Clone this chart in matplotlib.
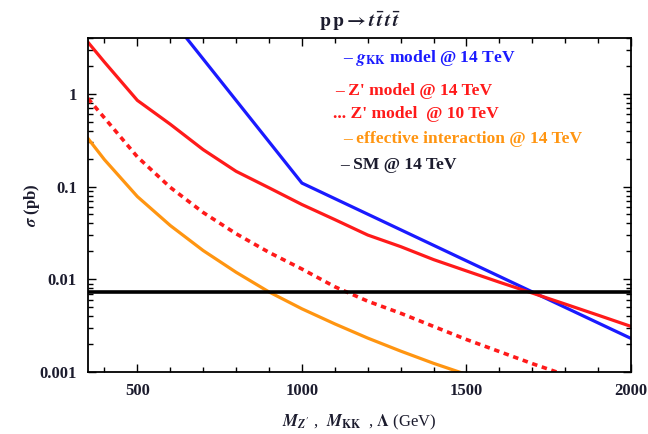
import matplotlib
matplotlib.use("Agg")
import matplotlib.pyplot as plt
from matplotlib.ticker import FixedLocator, FixedFormatter, LogLocator, MultipleLocator, NullFormatter

plt.rcParams['font.family'] = ['Liberation Serif', 'DejaVu Serif']
plt.rcParams['font.weight'] = 'bold'
plt.rcParams['mathtext.fontset'] = 'stix'

# cross sections in pb vs mass scale in GeV
mass = [350, 400, 500, 600, 700, 800, 900, 1000, 1100, 1200, 1300, 1400,
        1500, 1600, 1700, 1800, 1900, 2000]

zp14 = [3.6, 2.2, 0.85, 0.47, 0.25, 0.146, 0.097, 0.064, 0.044, 0.030,
        0.0225, 0.0163, 0.0123, 0.0093, 0.0071, 0.0054, 0.0041, 0.0031]

zp10 = [0.89, 0.55, 0.209, 0.098, 0.0525, 0.031, 0.0195, 0.0129, 0.0083,
        0.0058, 0.0043, 0.0031, 0.00224, 0.00166, 0.00123, 0.00093, 0.0007, 0.00053]

eff14 = [0.33, 0.195, 0.078, 0.038, 0.0204, 0.0119, 0.0073, 0.0048, 0.0033,
         0.00232, 0.00168, 0.00124, 0.00094, 0.00072, 0.00056, 0.00044, 0.00035, 0.00028]

gkk_mass = [500, 1000, 1500, 2000]
gkk14 = [18.5, 0.109, 0.0158, 0.0023]

sm14 = 0.0073

blue = '#1a1aff'
red = '#ff1a1a'
orange = '#ff9511'
ink = '#1c1c2e'

fig = plt.figure(figsize=(6.48, 4.34), dpi=100)
ax = fig.add_axes([0.1358, 0.1429, 0.8380, 0.7695])

ax.plot(gkk_mass, gkk14, color=blue, lw=2.3)
ax.plot(mass, zp14, color=red, lw=2.3)
ax.plot(mass, zp10, color=red, lw=2.6, linestyle=(0, (1.5, 1.3)))
ax.plot(mass, eff14, color=orange, lw=2.3)
ax.axhline(sm14, color='black', lw=2.6)

ax.set_yscale('log')
ax.set_xlim(350, 2000)
ax.set_ylim(0.001, 4)

ax.xaxis.set_major_locator(FixedLocator([500, 1000, 1500, 2000]))
ax.xaxis.set_minor_locator(MultipleLocator(100))
ax.yaxis.set_major_locator(FixedLocator([0.001, 0.01, 0.1, 1]))
ax.yaxis.set_major_formatter(FixedFormatter(['0.001', '0.01', '0.1', '1']))
ax.yaxis.set_minor_locator(LogLocator(base=10, subs=range(2, 10)))
ax.yaxis.set_minor_formatter(NullFormatter())

ax.tick_params(which='both', direction='in', top=True, right=True,
               labelsize=12, labelcolor=ink, width=1.0)
ax.tick_params(which='major', length=6, pad=8)
ax.tick_params(which='minor', length=3.5)
for s in ax.spines.values():
    s.set_linewidth(1.3)

ax.set_xlabel(r'$M_{Z^{\prime}}$ ,  $M_{\mathrm{KK}}$  , $\Lambda$ (GeV)',
              fontsize=12, color=ink, labelpad=10)
ax.set_ylabel(r'$\sigma$ (pb)', fontsize=12, color=ink, fontweight='bold')
ax.yaxis.set_label_coords(-0.085, 0.5)
ax.set_title(r'$\mathbf{p\,p} \rightarrow t\,\bar{t}\,t\,\bar{t}$',
             fontsize=14, color=ink, pad=8)

# key, written as coloured text lines inside the frame
key = [
    (0.470, 0.940, u'\u2013 $g_{\\mathrm{KK}}$ model @ 14 TeV', blue),
    (0.455, 0.841, u"\u2013 Z' model @ 14 TeV", red),
    (0.451, 0.772, u"... Z' model  @ 10 TeV", red),
    (0.470, 0.698, u'\u2013 effective interaction @ 14 TeV', orange),
    (0.464, 0.620, u'\u2013 SM @ 14 TeV', ink),
]
for x, y, txt, c in key:
    ax.text(x, y, txt, transform=ax.transAxes, color=c, fontsize=12.6,
            fontweight='bold', va='center', ha='left')

fig.savefig('out.png', dpi=100)
